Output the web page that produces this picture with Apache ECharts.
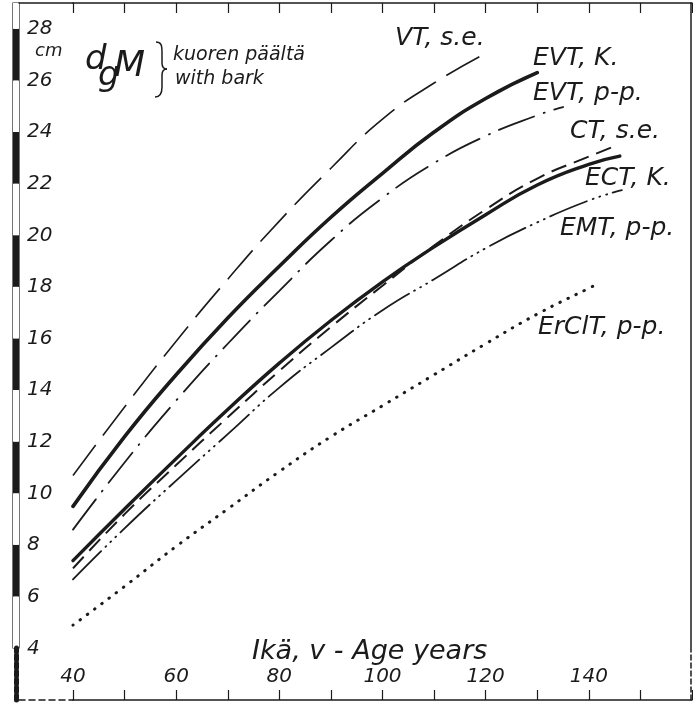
<!DOCTYPE html>
<html>
<head>
<meta charset="utf-8">
<script src="https://cdn.jsdelivr.net/npm/echarts@6/dist/echarts.min.js"></script>
<style>
html, body { margin: 0; padding: 0; background: #fff; }
#chart { width: 693px; height: 705px; }
</style>
</head>
<body>
<div id="chart"></div>
<script>
// age, years
const ages = [40, 50, 60, 70, 80, 90, 100, 110, 120, 130, 140];
// dgM with bark, cm
const vtSE   = [10.7, 13.35, 15.9, 18.3, 20.55, 22.6, 24.5, 25.9, 27.05];
const evtK   = [9.5, 12.2, 14.6, 16.8, 18.8, 20.7, 22.4, 24.0, 25.3, 26.3];
const evtPP  = [8.6, 11.2, 13.6, 15.8, 17.85, 19.8, 21.45, 22.8, 23.85, 24.65];
const ctSE   = [7.1, 9.2, 11.1, 12.95, 14.75, 16.45, 18.05, 19.6, 21.0, 22.2, 23.05];
const ectK   = [7.4, 9.4, 11.35, 13.25, 15.05, 16.7, 18.2, 19.55, 20.8, 21.95, 22.75];
const emtPP  = [6.67, 8.65, 10.5, 12.3, 14.1, 15.65, 17.1, 18.3, 19.5, 20.5, 21.35];
const erclPP = [4.9, 6.4, 7.95, 9.4, 10.85, 12.2, 13.4, 14.6, 15.8, 16.95, 17.95];
// last point of curves that stop between ticks: [age, dgM]
const evtPPEnd  = [135, 24.97];
const ctSEEnd   = [145.6, 23.5];
const ectKEnd   = [146, 23.07];
const emtPPEnd  = [146.4, 21.75];
const erclPPEnd = [141.2, 18.07];
// tick labels
const ageLabels = [40, 60, 80, 100, 120, 140];
const cmLabels = [4, 6, 8, 10, 12, 14, 16, 18, 20, 22, 24, 26, 28];

const ink = '#1b1b1b';
const hand = "'DejaVu Sans', sans-serif";
const chart = echarts.init(document.getElementById('chart'), null, { renderer: 'canvas' });

const pairs = (vals, end) => {
  const pts = vals.map((v, i) => [ages[i], v]);
  if (end) pts.push(end);
  return pts;
};
const curve = (name, vals, end, style) => ({
  name: name,
  type: 'line',
  xAxisIndex: 0,
  yAxisIndex: 0,
  data: pairs(vals, end),
  smooth: 0.5,
  symbol: 'none',
  silent: true,
  lineStyle: Object.assign({ color: ink, width: 1.8, cap: 'round' }, style)
});

const txt = (text, x, y, size) => ({
  type: 'text',
  x: x,
  y: y,
  silent: true,
  z: 100,
  style: {
    text: text,
    fill: ink,
    font: 'italic 300 ' + size + 'px ' + hand,
    textAlign: 'left', textVerticalAlign: 'middle',
    align: 'left', verticalAlign: 'middle'
  }
});

// curly brace made of bezier pieces
const braceStroke = { stroke: ink, lineWidth: 1.5, fill: 'none' };
const bz = (x1, y1, cx1, cy1, cx2, cy2, x2, y2) => ({
  type: 'bezierCurve', silent: true,
  shape: { x1: x1, y1: y1, cpx1: cx1, cpy1: cy1, cpx2: cx2, cpy2: cy2, x2: x2, y2: y2 },
  style: braceStroke
});
const seg = (x1, y1, x2, y2) => ({
  type: 'line', silent: true,
  shape: { x1: x1, y1: y1, x2: x2, y2: y2 },
  style: braceStroke
});

const hideAll = { axisLine: { show: false }, axisTick: { show: false }, axisLabel: { show: false }, splitLine: { show: false } };
const lineOnly = (lineStyle) => ({
  axisLine: { show: true, lineStyle: Object.assign({ color: ink, width: 1.5 }, lineStyle) },
  axisTick: { show: false }, axisLabel: { show: false }, splitLine: { show: false }
});

chart.setOption({
  backgroundColor: '#fff',
  animation: false,
  grid: [
    // 0 plot area
    { left: 73, right: 1, top: 3, bottom: 5, outerBoundsMode: 'none' },
    // 1 black/white scale bar on the left (4 .. top)
    { left: 13, width: 6, top: 3, bottom: 57, show: true, borderColor: ink, borderWidth: 1.2, backgroundColor: 'transparent', outerBoundsMode: 'none' },
    // 2 broken part of the age axis
    { left: 19, width: 54, top: 3, bottom: 5, outerBoundsMode: 'none' },
    // 3 broken part of the scale bar (below 4)
    { left: 16, width: 1, top: 648, bottom: 5, outerBoundsMode: 'none' },
    // 4 right frame, solid
    { right: 1, width: 1, top: 3, bottom: 53, outerBoundsMode: 'none' },
    // 5 right frame, broken
    { right: 1, width: 1, top: 652, bottom: 5, outerBoundsMode: 'none' }
  ],
  xAxis: [
    {
      gridIndex: 0, type: 'value', min: 40, max: 160, interval: 10, position: 'bottom',
      axisLine: { show: true, lineStyle: { color: ink, width: 1.5 } },
      axisTick: { show: true, inside: true, length: 10, lineStyle: { color: ink, width: 1.2 } },
      axisLabel: {
        inside: true, margin: 13, color: ink, fontSize: 20, fontStyle: 'italic', fontWeight: 300, fontFamily: hand,
        showMinLabel: true, showMaxLabel: true, hideOverlap: false,
        formatter: v => ageLabels.indexOf(v) >= 0 ? String(v) : ''
      },
      splitLine: { show: false }
    },
    {
      gridIndex: 0, type: 'value', min: 40, max: 160, interval: 10, position: 'top',
      axisLine: { show: true, lineStyle: { color: ink, width: 1.5 } },
      axisTick: { show: true, inside: true, length: 10, lineStyle: { color: ink, width: 1.2 } },
      axisLabel: { show: false },
      splitLine: { show: false }
    },
    Object.assign({ gridIndex: 1, type: 'value', min: 0, max: 1 }, hideAll),
    Object.assign({ gridIndex: 2, type: 'value', min: 0, max: 1, position: 'bottom' }, lineOnly({ type: [6, 4] })),
    Object.assign({ gridIndex: 2, type: 'value', min: 0, max: 1, position: 'top' }, lineOnly({})),
    Object.assign({ gridIndex: 3, type: 'value', min: 0, max: 1 }, hideAll),
    Object.assign({ gridIndex: 4, type: 'value', min: 0, max: 1 }, hideAll),
    Object.assign({ gridIndex: 5, type: 'value', min: 0, max: 1 }, hideAll)
  ],
  yAxis: [
    {
      gridIndex: 0, type: 'value', min: 2, max: 29, interval: 2, position: 'left', offset: 54,
      axisLine: { show: false }, axisTick: { show: false },
      axisLabel: {
        inside: true, margin: 8, color: ink, fontSize: 20, fontStyle: 'italic', fontWeight: 300, fontFamily: hand,
        showMinLabel: true, showMaxLabel: true, hideOverlap: false,
        formatter: v => cmLabels.indexOf(v) >= 0 ? String(v) : ''
      },
      splitLine: { show: false }
    },
    {
      gridIndex: 1, type: 'value', min: 4, max: 29, interval: 2,
      axisLine: { show: false }, axisTick: { show: false }, axisLabel: { show: false }, splitLine: { show: false },
      splitArea: { show: true, areaStyle: { color: ['#fff', ink] } }
    },
    Object.assign({ gridIndex: 2, type: 'value', min: 0, max: 1 }, hideAll),
    Object.assign({ gridIndex: 3, type: 'value', min: 0, max: 1, position: 'left' }, lineOnly({ width: 5, type: [5, 3] })),
    Object.assign({ gridIndex: 4, type: 'value', min: 0, max: 1, position: 'right' }, lineOnly({})),
    Object.assign({ gridIndex: 5, type: 'value', min: 0, max: 1, position: 'right' }, lineOnly({ type: [5, 3] }))
  ],
  series: [
    curve('VT, s.e.', vtSE, null, { width: 1.6, type: [38, 12], cap: 'butt' }),
    curve('EVT, K.', evtK, null, { width: 3.6 }),
    curve('EVT, p-p.', evtPP, evtPPEnd, { width: 1.8, type: [38, 10, 1, 10] }),
    curve('CT, s.e.', ctSE, ctSEEnd, { width: 2, type: [16, 8], cap: 'butt' }),
    curve('ECT, K.', ectK, ectKEnd, { width: 3.4 }),
    curve('EMT, p-p.', emtPP, emtPPEnd, { width: 1.8, type: [40, 6, 1, 6, 1, 6, 1, 6] }),
    curve('ErClT, p-p.', erclPP, erclPPEnd, { width: 3, type: [0.5, 8.5] })
  ],
  graphic: [
    txt('cm', 35, 51, 18),
    txt('d', 85, 60, 34),
    txt('g', 98, 76, 34),
    txt('M', 114, 67, 36),
    {
      type: 'group', x: 156, y: 42, silent: true, z: 100,
      children: [
        bz(0, 0, 5, 0, 6, 3, 6, 10),
        seg(6, 10, 6, 21),
        bz(6, 21, 6, 25, 8, 27, 11, 27),
        bz(11, 27, 8, 27, 6, 29, 6, 33),
        seg(6, 33, 6, 45),
        bz(6, 45, 6, 52, 4, 55, -1, 55)
      ]
    },
    txt('kuoren päältä', 173, 55, 19),
    txt('with bark', 175, 79, 19),
    txt('VT, s.e.', 395, 38, 25),
    txt('EVT, K.', 533, 58, 25),
    txt('EVT, p-p.', 533, 93, 25),
    txt('CT, s.e.', 570, 131, 25),
    txt('ECT, K.', 585, 178, 25),
    txt('EMT, p-p.', 560, 228, 25),
    txt('ErClT, p-p.', 538, 327, 25),
    txt('Ikä, v - Age years', 252, 652, 27)
  ]
});
</script>
</body>
</html>
